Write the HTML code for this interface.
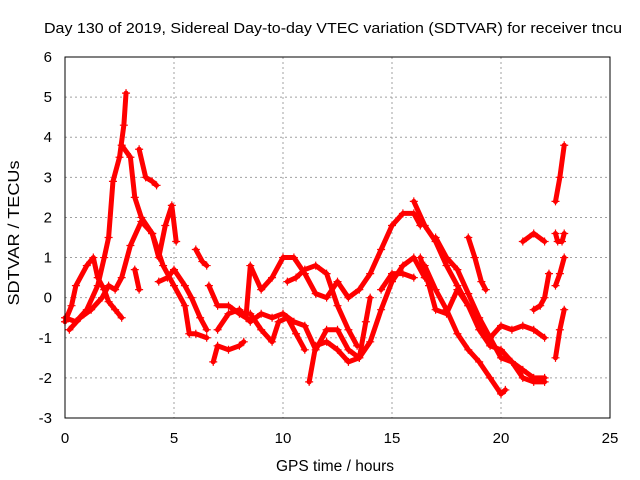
<!DOCTYPE html>
<html><head><meta charset="utf-8"><style>
body{margin:0;background:#fff;font-family:"Liberation Sans",sans-serif;}
svg{display:block}
</style></head><body>
<svg id="chart" width="640" height="480" xmlns="http://www.w3.org/2000/svg">
<text x="333" y="33" font-size="15" textLength="578" lengthAdjust="spacingAndGlyphs" text-anchor="middle" fill="#000">Day 130 of 2019, Sidereal Day-to-day VTEC variation (SDTVAR) for receiver tncu</text>
<text x="335" y="471" font-size="15.5" text-anchor="middle">GPS time / hours</text>
<text transform="translate(19,233) rotate(-90)" font-size="16" text-anchor="middle" textLength="145" lengthAdjust="spacingAndGlyphs">SDTVAR / TECUs</text>
<g id="grid"></g><g id="marks"></g>
<rect x="65" y="57" width="545" height="361" fill="none" stroke="#000" stroke-width="1"/>
</svg>
<script>
const xTicks=[0,5,10,15,20,25];
const yTicks=[-3,-2,-1,0,1,2,3,4,5,6];
const tracks=[
[[0,-0.5],[0.5,-0.6],[1,-0.3],[1.5,0.3],[1.8,1.0],[2,1.5],[2.2,2.9],[2.5,3.5],[2.7,4.3],[2.8,5.1]],
[[2.6,3.8],[3,3.5],[3.2,2.5],[3.5,2],[4,1.6],[4.5,0.8],[5,0.3],[5.5,-0.2],[5.7,-0.9],[6,-0.9],[6.5,-1]],
[[3.4,3.7],[3.7,3],[4,2.9],[4.2,2.8]],
[[0,-0.6],[0.3,-0.2],[0.5,0.3],[1,0.8],[1.3,1.0],[1.5,0.5],[1.8,0.2],[2,-0.1],[2.3,-0.3],[2.6,-0.5]],
[[0.2,-0.8],[0.7,-0.5],[1.2,-0.3],[1.7,0],[2,0.3],[2.3,0.2],[2.6,0.5],[3,1.3],[3.5,1.9],[4,1.6],[4.3,1.0],[4.6,1.8],[4.9,2.3],[5.1,1.4]],
[[3.2,0.7],[3.4,0.2]],
[[4.3,0.4],[4.7,0.5],[5,0.7],[5.5,0.3],[5.8,0],[6.2,-0.5],[6.5,-0.8]],
[[6,1.2],[6.3,0.9],[6.5,0.8]],
[[6.6,0.3],[7,-0.2],[7.5,-0.2],[8,-0.4],[8.3,-0.5],[8.5,0.8],[9,0.2],[9.5,0.5],[10,1],[10.5,1.0],[11,0.6],[11.5,0.1],[12,0.0],[12.5,0.4],[13,0.0],[13.5,0.2],[14,0.6],[14.5,1.2],[15,1.8],[15.5,2.1],[16,2.1],[16.3,1.8]],
[[6.8,-1.6],[7,-1.2],[7.5,-1.3],[8,-1.2],[8.2,-1.1]],
[[7,-0.8],[7.5,-0.4],[8,-0.3],[8.5,-0.6],[9,-0.4],[9.5,-0.5],[10,-0.4],[10.5,-0.6],[11,-0.7],[11.5,-1.3],[12,-0.8],[12.5,-0.8],[13,-1.3],[13.5,-1.5],[14,-1.1],[14.5,-0.3],[15,0.4],[15.5,0.8],[16,1],[16.5,0.5]],
[[8.5,-0.4],[9,-0.8],[9.5,-1.1],[9.8,-0.6],[10.2,-0.5],[10.6,-0.9],[11,-1.3]],
[[11.2,-2.1],[11.5,-1.2],[12,-1.1],[12.5,-1.3],[13,-1.6],[13.5,-1.5],[13.8,-0.6],[14,0]],
[[10.2,0.4],[10.6,0.5],[11,0.7],[11.5,0.8],[12,0.6],[12.5,-0.2],[13,-0.8],[13.4,-1.2]],
[[14.5,0.2],[15,0.6],[15.5,0.6],[16,0.5]],
[[16,2.4],[16.5,1.8],[17,1.4],[17.5,0.8],[18,0.3],[18.5,-0.2],[19,-0.8],[19.5,-1.2],[20,-1.3],[20.5,-1.6],[21,-1.8],[21.5,-2],[22,-2]],
[[16.5,0.8],[17,0.2],[17.5,-0.3],[18,-0.9],[18.5,-1.3],[19,-1.6],[19.5,-2],[20,-2.4],[20.2,-2.3]],
[[16.3,1.0],[16.7,0.3],[17,-0.3],[17.5,-0.4],[18,0.2],[18.5,-0.2],[19,-0.6],[19.5,-1.0],[20,-1.5],[20.5,-1.6],[21,-2.0],[21.5,-2.1],[22,-2.1]],
[[17,1.5],[17.5,1],[18,0.7],[18.5,0.1],[19,-0.5],[19.5,-1.0],[20,-0.7],[20.5,-0.8],[21,-0.7],[21.5,-0.8],[22,-1]],
[[18.5,1.5],[18.8,1.0],[19.1,0.4],[19.3,0.2]],
[[21,1.4],[21.5,1.6],[22,1.4]],
[[21.5,-0.3],[21.8,-0.2],[22,0],[22.2,0.6]],
[[22.5,2.4],[22.7,3],[22.9,3.8]],
[[22.5,-1.5],[22.7,-0.8],[22.9,-0.3]],
[[22.5,1.6],[22.6,1.4],[22.8,1.4],[22.9,1.6]],
[[22.5,0.3],[22.7,0.6],[22.9,1.0]]
];
const NS="http://www.w3.org/2000/svg";
const X0=65,X1=610,Y0=418,Y1=57;
function sx(v){return X0+(v-0)/(25-0)*(X1-X0);}
function sy(v){return Y0-(v+3)/9*(Y0-Y1);}
const grid=document.getElementById('grid'),marks=document.getElementById('marks'),svg=document.getElementById('chart');
xTicks.forEach(t=>{const x=sx(t);
 if(t>0&&t<25){const l=document.createElementNS(NS,'line');l.setAttribute('x1',x);l.setAttribute('x2',x);l.setAttribute('y1',Y1);l.setAttribute('y2',Y0);l.setAttribute('stroke','#a0a0a0');l.setAttribute('stroke-dasharray','2,3');
 
 grid.appendChild(l);}
 const tx=document.createElementNS(NS,'text');tx.setAttribute('x',x);tx.setAttribute('y',Y0+25);tx.setAttribute('font-size','15');tx.setAttribute('text-anchor','middle');tx.textContent=t;
 
 svg.appendChild(tx);});
yTicks.forEach(t=>{const y=sy(t);
 if(t>-3&&t<6){const l=document.createElementNS(NS,'line');l.setAttribute('x1',X0);l.setAttribute('x2',X1);l.setAttribute('y1',y);l.setAttribute('y2',y);l.setAttribute('stroke','#a0a0a0');l.setAttribute('stroke-dasharray','2,3');
 
 grid.appendChild(l);}
 const tx=document.createElementNS(NS,'text');tx.setAttribute('x',X0-13);tx.setAttribute('y',y+5);tx.setAttribute('font-size','15');tx.setAttribute('text-anchor','end');tx.textContent=t;
 
 svg.appendChild(tx);});
tracks.forEach(tr=>{
 const p=document.createElementNS(NS,'polyline');
 p.setAttribute('points',tr.map(d=>sx(d[0])+','+sy(d[1])).join(' '));
 p.setAttribute('fill','none');p.setAttribute('stroke','#ff0000');p.setAttribute('stroke-width','5');p.setAttribute('stroke-linejoin','round');p.setAttribute('stroke-linecap','round');
 
 
 marks.appendChild(p);
 tr.forEach(d=>{const m=document.createElementNS(NS,'path');const x=sx(d[0]),y=sy(d[1]);
  m.setAttribute('d',`M${x-4},${y}H${x+4}M${x},${y-4}V${y+4}`);m.setAttribute('stroke','#ff0000');m.setAttribute('stroke-width','1.2');
  
  
  marks.appendChild(m);});
});
</script>
</body></html>
